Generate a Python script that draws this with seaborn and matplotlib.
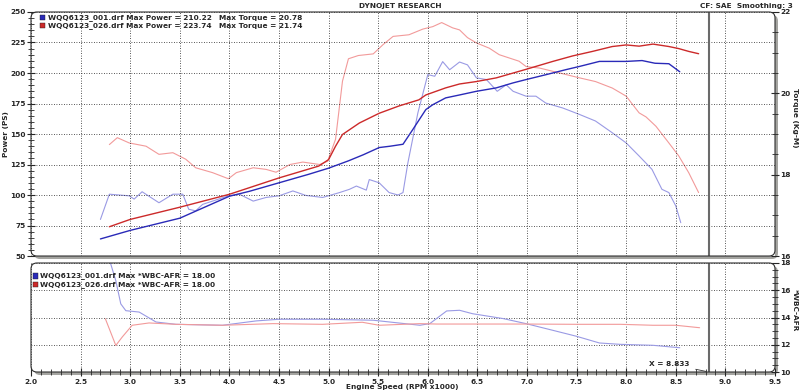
import numpy as np
import pandas as pd
import matplotlib
matplotlib.use("Agg")
import matplotlib.pyplot as plt
import seaborn as sns
from matplotlib.patches import FancyBboxPatch, Rectangle
from matplotlib.ticker import MultipleLocator

# Run 001 (blue) - power curve
rpm_pow_001 = [2.70, 3.00, 3.50, 4.00, 4.20, 4.50, 4.80, 5.00, 5.20, 5.35, 5.51, 5.62, 5.75,
               5.85, 5.98, 6.05, 6.18, 6.32, 6.49, 6.69, 6.86, 6.99, 7.19, 7.39, 7.53,
               7.73, 8.00, 8.16, 8.29, 8.43, 8.54]
pow_001 = [64, 71, 81, 99, 103, 110, 117, 122, 128, 133, 138.9, 140, 141.6,
           153.8, 170, 174, 179.6, 182, 185, 187.8, 191.9, 194.6, 198.6, 202.7, 205.4,
           209.5, 209.5, 210.2, 208, 207.6, 201]

# Run 026 (red) - power curve
rpm_pow_026 = [2.79, 3.00, 3.50, 4.00, 4.50, 4.90, 5.00, 5.07, 5.14, 5.31, 5.51, 5.71, 5.91,
               5.98, 6.18, 6.32, 6.49, 6.69, 6.99, 7.26, 7.46, 7.66, 7.86, 8.00, 8.13,
               8.27, 8.43, 8.53, 8.63, 8.73]
pow_026 = [74, 80, 90, 100.6, 114, 123.7, 129, 140, 149.6, 159, 167, 173, 178,
           182, 187.8, 191, 193, 196, 203, 209.5, 214, 217.7, 221.7, 223, 222,
           223.7, 221.7, 220, 217.7, 215.8]

# Run 001 torque (Kg-M)
rpm_tq_001 = [2.70, 2.79, 2.99, 3.04, 3.12, 3.29, 3.43, 3.53, 3.59, 3.66, 3.73, 3.83, 3.99,
              4.10, 4.24, 4.37, 4.50, 4.64, 4.77, 4.94, 5.11, 5.21, 5.28, 5.38, 5.41,
              5.51, 5.61, 5.70, 5.75, 5.80, 5.90, 6.00, 6.07, 6.15, 6.22, 6.32, 6.40,
              6.49, 6.59, 6.70, 6.79, 6.86, 6.99, 7.09, 7.19, 7.36, 7.53, 7.69, 7.86,
              8.00, 8.13, 8.26, 8.36, 8.43, 8.50, 8.55]
tq_001 = [16.90, 17.52, 17.48, 17.40, 17.58, 17.31, 17.52, 17.52, 17.15, 17.11, 17.27, 17.35, 17.48,
          17.52, 17.35, 17.44, 17.48, 17.60, 17.49, 17.44, 17.56, 17.64, 17.72, 17.62, 17.88,
          17.80, 17.56, 17.50, 17.56, 18.30, 19.52, 20.46, 20.42, 20.78, 20.58, 20.77, 20.70,
          20.38, 20.34, 20.05, 20.21, 20.05, 19.93, 19.93, 19.76, 19.64, 19.48, 19.32, 19.03,
          18.78, 18.46, 18.13, 17.64, 17.56, 17.23, 16.82]

# Run 026 torque (Kg-M)
rpm_tq_026 = [2.79, 2.87, 2.99, 3.16, 3.29, 3.43, 3.56, 3.66, 3.83, 3.99, 4.07, 4.24, 4.37,
              4.47, 4.61, 4.74, 4.91, 4.99, 5.07, 5.14, 5.20, 5.30, 5.45, 5.55, 5.65,
              5.81, 5.95, 6.05, 6.14, 6.25, 6.32, 6.40, 6.49, 6.62, 6.72, 6.92, 6.99,
              7.13, 7.33, 7.53, 7.69, 7.86, 8.00, 8.13, 8.20, 8.30, 8.43, 8.53, 8.63, 8.73]
tq_026 = [18.74, 18.91, 18.78, 18.70, 18.50, 18.54, 18.38, 18.17, 18.05, 17.90, 18.05, 18.17, 18.13,
          18.06, 18.25, 18.31, 18.25, 18.33, 18.87, 20.30, 20.85, 20.93, 20.97, 21.20, 21.40,
          21.44, 21.58, 21.64, 21.74, 21.61, 21.56, 21.37, 21.24, 21.11, 20.95, 20.79, 20.66,
          20.62, 20.50, 20.38, 20.29, 20.13, 19.93, 19.52, 19.42, 19.19, 18.78, 18.46, 18.05, 17.56]

# Air/fuel ratio
rpm_afr_001 = [2.78, 2.855, 2.905, 2.956, 3.09, 3.26, 3.46, 3.93, 4.27, 4.50, 4.94, 5.45, 5.92,
               6.02, 6.19, 6.32, 6.45, 6.76, 6.99, 7.26, 7.50, 7.73, 7.94, 8.27, 8.54]
afr_001 = [18.5, 16.7, 15.0, 14.5, 14.4, 13.67, 13.5, 13.43, 13.75, 13.87, 13.87, 13.8, 13.43,
           13.55, 14.48, 14.53, 14.28, 13.92, 13.55, 13.06, 12.62, 12.13, 12.03, 11.96, 11.78]
rpm_afr_026 = [2.75, 2.855, 2.92, 3.02, 3.19, 3.46, 3.93, 4.44, 4.94, 5.34, 5.51, 5.92, 6.09,
               6.59, 6.99, 7.50, 7.94, 8.27, 8.50, 8.74]
afr_026 = [13.9, 11.95, 12.57, 13.43, 13.6, 13.5, 13.43, 13.55, 13.5, 13.65, 13.43, 13.55, 13.52,
           13.52, 13.52, 13.5, 13.5, 13.43, 13.43, 13.25]

cursor_rpm = 8.833
x_ticks = np.arange(2.0, 9.51, 0.5)

sns.set_style("white")
plt.rcParams['font.family'] = ['DejaVu Sans']
plt.rcParams['font.weight'] = 'bold'
FS = 5.3

BLUE, RED = '#2a2ab8', '#cc2a2a'
LBLUE, LRED = '#9a9ae4', '#f29a9a'

fig = plt.figure(figsize=(8, 3.92), dpi=100)
ax1 = fig.add_axes([0.03875, 0.3469, 0.93, 0.6225])
ax1t = ax1.twinx()
ax2 = fig.add_axes([0.03875, 0.0510, 0.93, 0.2781])

grid_kw = dict(color='#202020', linestyle=(0, (1.0, 2.0)), linewidth=0.6)

# --- top panel: power + torque
sns.lineplot(x=rpm_tq_001, y=tq_001, ax=ax1t, color=LBLUE, lw=0.8, estimator=None)
sns.lineplot(x=rpm_tq_026, y=tq_026, ax=ax1t, color=LRED, lw=0.8, estimator=None)
sns.lineplot(x=rpm_pow_001, y=pow_001, ax=ax1, color=BLUE, lw=1.0, estimator=None)
sns.lineplot(x=rpm_pow_026, y=pow_026, ax=ax1, color=RED, lw=1.0, estimator=None)
ax1.set_zorder(ax1t.get_zorder() + 1)
ax1.patch.set_visible(False)
ax1t.patch.set_visible(True)
ax1t.patch.set_facecolor('white')

ax1.set_xlim(2.0, 9.5)
ax1.set_ylim(50, 250)
ax1t.set_ylim(16, 22)
ax1.set_xticks(x_ticks)
ax1.set_xticklabels([])
ax1.tick_params(axis='x', length=0)
ax1.set_yticks(np.arange(50, 251, 25))
ax1.yaxis.set_minor_locator(MultipleLocator(5))
ax1.tick_params(axis='y', which='major', direction='inout', length=6, width=0.8,
                labelsize=FS, pad=1, left=True)
ax1.tick_params(axis='y', which='minor', direction='inout', length=4, width=0.6, left=True)
ax1.grid(True, which='major', **grid_kw)
ax1.axvline(cursor_rpm, color='#6a6a6a', lw=1.5)

ax1t.set_yticks([16, 18, 20, 22])
ax1t.yaxis.set_minor_locator(MultipleLocator(0.5))
ax1t.tick_params(axis='y', which='major', direction='inout', length=6, width=0.8,
                 labelsize=FS, pad=1, right=True)
ax1t.tick_params(axis='y', which='minor', direction='inout', length=4, width=0.6, right=True)
ax1t.grid(False)

# --- bottom panel: AFR
sns.lineplot(x=rpm_afr_001, y=afr_001, ax=ax2, color=LBLUE, lw=0.8, estimator=None)
sns.lineplot(x=rpm_afr_026, y=afr_026, ax=ax2, color=LRED, lw=0.8, estimator=None)
ax2.set_xlim(2.0, 9.5)
ax2.set_ylim(10, 18)
ax2.yaxis.tick_right()
ax2.set_yticks([10, 12, 14, 16, 18])
ax2.yaxis.set_minor_locator(MultipleLocator(0.5))
ax2.set_xticks(x_ticks)
ax2.set_xticklabels([f"{v:.1f}" for v in x_ticks])
ax2.xaxis.set_minor_locator(MultipleLocator(0.1))
ax2.tick_params(axis='both', which='major', direction='inout', length=6, width=0.8,
                labelsize=FS, pad=2, bottom=True, right=True, left=False)
ax2.tick_params(axis='y', which='major', pad=1)
ax2.tick_params(axis='both', which='minor', direction='inout', length=4, width=0.6,
                bottom=True, right=True, left=False)
ax2.grid(True, which='major', **grid_kw)
ax2.axvline(cursor_rpm, color='#6a6a6a', lw=1.5)
ax2.annotate("X = 8.833", xy=(cursor_rpm, 10), xytext=(8.64, 10.6), ha='right', va='center',
             fontsize=FS, arrowprops=dict(arrowstyle='-', color='#333333', lw=0.6))

for ax in (ax1, ax1t, ax2):
    ax.set_xlabel("")
    ax.set_ylabel("")
    for s in ax.spines.values():
        s.set_visible(False)

# rounded frames with drop shadow
for ax in (ax1, ax2):
    bb = ax.get_position()
    x0, y0, w, h = bb.x0 * 8, bb.y0 * 3.92, bb.width * 8, bb.height * 3.92
    shadow = FancyBboxPatch((x0 + 0.03, y0 - 0.03), w, h, boxstyle="round,pad=0,rounding_size=0.06",
                            transform=fig.dpi_scale_trans, facecolor='#a4a4a0', edgecolor='none', zorder=-5)
    frame = FancyBboxPatch((x0, y0), w, h, boxstyle="round,pad=0,rounding_size=0.06",
                           transform=fig.dpi_scale_trans, facecolor='none', edgecolor='#303030',
                           lw=0.8, zorder=10)
    fig.patches.extend([shadow, frame])


def px(x, y):
    return x / 800, 1 - y / 392


# legends
leg_top = [(BLUE, "WQQ6123_001.drf Max Power = 210.22", "Max Torque = 20.78", 17.7),
           (RED, "WQQ6123_026.drf Max Power = 223.74", "Max Torque = 21.74", 25.7)]
for col, t1, t2, yy in leg_top:
    fig.patches.append(Rectangle(px(40, yy + 2.7), 5 / 800, 5.4 / 392, transform=fig.transFigure,
                                 facecolor=col, edgecolor='#202020', lw=0.3, zorder=11))
    fig.text(*px(47.5, yy), t1, fontsize=FS, va='center', ha='left')
    fig.text(*px(219, yy), t2, fontsize=FS, va='center', ha='left')

leg_bot = [(BLUE, "WQQ6123_001.drf Max *WBC-AFR = 18.00", 276),
           (RED, "WQQ6123_026.drf Max *WBC-AFR = 18.00", 284.3)]
for col, t1, yy in leg_bot:
    fig.patches.append(Rectangle(px(33, yy + 2.7), 5 / 800, 5.4 / 392, transform=fig.transFigure,
                                 facecolor=col, edgecolor='#202020', lw=0.3, zorder=11))
    fig.text(*px(39.5, yy), t1, fontsize=FS, va='center', ha='left')

fig.text(*px(400, 6), "DYNOJET RESEARCH", fontsize=FS, ha='center', va='center')
fig.text(*px(793, 6), "CF: SAE  Smoothing: 3", fontsize=FS, ha='right', va='center')
fig.text(*px(6, 134), "Power (PS)", fontsize=FS, rotation=90, ha='center', va='center')
fig.text(*px(795, 118), "Torque (Kg-M)", fontsize=FS, rotation=270, ha='center', va='center')
fig.text(*px(795, 310), "*WBC-AFR", fontsize=FS, rotation=270, ha='center', va='center')
fig.text(*px(402, 387), "Engine Speed (RPM x1000)", fontsize=FS, ha='center', va='center')

fig.savefig("out.png", dpi=100)
